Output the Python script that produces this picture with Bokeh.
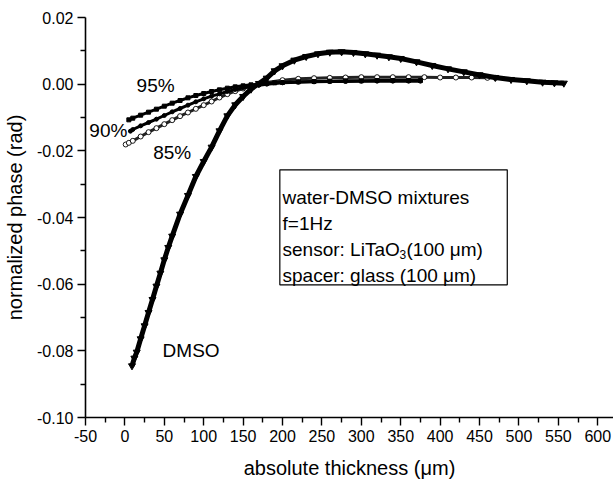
from bokeh.plotting import figure
from bokeh.models import Range1d, FixedTicker, ColumnDataSource
from bokeh.core.properties import value
from bokeh.embed import file_html
from bokeh.resources import INLINE

# ---- data ----
dmso_x = [9, 12, 15, 20, 25, 30, 35, 40, 45, 50, 55, 60, 70, 80, 90, 100, 110, 120, 130, 140,
          150, 160, 170, 180, 190, 200, 215, 230, 245, 260, 275, 290, 305, 320, 335, 350, 370,
          390, 410, 430, 450, 470, 490, 510, 530, 545, 557]
dmso_y = [-0.0845, -0.0822, -0.0804, -0.0764, -0.0725, -0.0685, -0.0646, -0.0606, -0.0567,
          -0.0527, -0.0490, -0.0456, -0.0390, -0.0334, -0.0277, -0.0232, -0.0189, -0.0140,
          -0.0095, -0.0062, -0.0037, -0.0015, 0.0002, 0.0018, 0.0040, 0.0055, 0.0072, 0.0083,
          0.0091, 0.0096, 0.0097, 0.0095, 0.0091, 0.0087, 0.0082, 0.0077, 0.0067, 0.0056,
          0.0046, 0.0037, 0.0028, 0.0020, 0.0014, 0.0010, 0.0006, 0.0004, 0.0003]

p95_x = [5, 10, 20, 30, 40, 50, 60, 70, 80, 90, 100, 110, 120, 130, 140, 150, 160, 170, 180,
         190, 200, 220, 240, 260, 280, 300, 320, 340, 360, 375]
p95_y = [-0.0107, -0.0102, -0.0093, -0.0084, -0.0075, -0.0066, -0.0057, -0.0049, -0.0041,
         -0.0034, -0.0028, -0.0022, -0.0017, -0.0012, -0.0008, -0.0005, -0.0002, 0.0000,
         0.0002, 0.0004, 0.0005, 0.0007, 0.0008, 0.0009, 0.0010, 0.0010, 0.0011, 0.0011,
         0.0011, 0.0011]

p90_x = [7, 10, 20, 30, 40, 50, 60, 70, 80, 90, 100, 110, 120, 130, 140, 150, 160, 170, 180,
         200, 220, 240, 260, 280, 300, 320, 340, 360, 375]
p90_y = [-0.0141, -0.0136, -0.0125, -0.0115, -0.0105, -0.0094, -0.0083, -0.0073, -0.0063,
         -0.0053, -0.0044, -0.0036, -0.0029, -0.0022, -0.0016, -0.0011, -0.0007, -0.0003,
         0.0000, 0.0004, 0.0006, 0.0007, 0.0008, 0.0008, 0.0009, 0.0009, 0.0009, 0.0009, 0.0009]

p85_x = [1, 5, 10, 20, 30, 40, 50, 60, 70, 80, 90, 100, 110, 120, 130, 140, 150, 160, 170,
         180, 200, 220, 240, 260, 280, 300, 320, 340, 360, 380, 400, 420, 440, 460, 470]
p85_y = [-0.0181, -0.0176, -0.0170, -0.0157, -0.0144, -0.0132, -0.0120, -0.0108, -0.0096,
         -0.0085, -0.0074, -0.0063, -0.0052, -0.0040, -0.0030, -0.0021, -0.0013, -0.0006,
         0.0000, 0.0005, 0.0012, 0.0016, 0.0018, 0.0019, 0.0020, 0.0021, 0.0021, 0.0021,
         0.0021, 0.0021, 0.0020, 0.0020, 0.0020, 0.0019, 0.0019]

x_ticks = [-50, 0, 50, 100, 150, 200, 250, 300, 350, 400, 450, 500, 550, 600]
x_tick_labels = ["-50", "0", "50", "100", "150", "200", "250", "300", "350", "400", "450",
                 "500", "550", "600"]
x_minor = [-25, 25, 75, 125, 175, 225, 275, 325, 375, 425, 475, 525, 575]
y_ticks = [-0.10, -0.08, -0.06, -0.04, -0.02, 0.00, 0.02]
y_tick_labels = ["-0.10", "-0.08", "-0.06", "-0.04", "-0.02", "0.00", "0.02"]
y_minor = [-0.09, -0.07, -0.05, -0.03, -0.01, 0.01]

curve_labels = ["95%", "90%", "85%", "DMSO"]
curve_label_x = [39, -21, 60, 84]
curve_label_y = [-0.0004, -0.0139, -0.0205, -0.0799]

box_lines = ["water-DMSO mixtures", "f=1Hz", "sensor: LiTaO", "spacer: glass (100 \u03bcm)"]

FONT = "Liberation Sans"

p = figure(width=613, height=481, output_backend="svg", toolbar_location=None,
           x_range=Range1d(-50, 620), y_range=Range1d(-0.10, 0.02),
           min_border_left=85, min_border_right=0, min_border_top=17, min_border_bottom=64)
p.outline_line_color = None
p.grid.visible = False
p.background_fill_color = "white"

for ax in (p.xaxis[0], p.yaxis[0]):
    ax.axis_line_width = 1.6
    ax.major_tick_line_width = 1.4
    ax.minor_tick_line_width = 1.4
    ax.major_tick_out = 8
    ax.major_tick_in = 0
    ax.minor_tick_out = 5
    ax.minor_tick_in = 0
    ax.major_label_text_font = FONT
    ax.major_label_text_font_size = "16px"
    ax.major_label_text_color = "black"
    ax.axis_label_text_font = FONT
    ax.axis_label_text_font_size = "20px"
    ax.axis_label_text_font_style = "normal"
    ax.axis_label_text_color = "black"

p.xaxis.ticker = FixedTicker(ticks=x_ticks, minor_ticks=x_minor)
p.xaxis.major_label_overrides = dict(zip(x_ticks, x_tick_labels))
p.xaxis.axis_label = "absolute thickness (\u03bcm)"
p.xaxis.major_label_standoff = 4
p.xaxis.axis_label_standoff = 12

p.yaxis.ticker = FixedTicker(ticks=y_ticks, minor_ticks=y_minor)
p.yaxis.major_label_overrides = dict(zip(y_ticks, y_tick_labels))
p.yaxis.axis_label = "normalized phase (rad)"
p.yaxis.major_label_standoff = 4
p.yaxis.axis_label_standoff = 8

# ---- curves ----
s85 = ColumnDataSource(dict(x=p85_x, y=p85_y))
p.line("x", "y", source=s85, line_color="#222222", line_width=3)
p.scatter("x", "y", source=s85, marker="circle", size=5, fill_color="white",
          line_color="black", line_width=0.9)

s90 = ColumnDataSource(dict(x=p90_x, y=p90_y))
p.line("x", "y", source=s90, line_color="black", line_width=3)
p.scatter("x", "y", source=s90, marker="circle", size=4, fill_color="black", line_color="black")

s95 = ColumnDataSource(dict(x=p95_x, y=p95_y))
p.line("x", "y", source=s95, line_color="black", line_width=3)
p.scatter("x", "y", source=s95, marker="square", size=4, fill_color="black", line_color="black")

sd = ColumnDataSource(dict(x=dmso_x, y=dmso_y))
p.line("x", "y", source=sd, line_color="black", line_width=5)
p.scatter("x", "y", source=sd, marker="inverted_triangle", size=7, fill_color="black",
          line_color="black")

# ---- curve labels ----
p.text(x=curve_label_x, y=curve_label_y, text=curve_labels, text_font=value(FONT),
       text_font_size="19px", text_align="center", text_baseline="middle", text_color="black")

# ---- info box ----
box_left, box_right, box_top, box_bottom = 196.6, 485.2, -0.0257, -0.0602
p.quad(left=[box_left], right=[box_right], top=[box_top], bottom=[box_bottom],
       fill_color="white", line_color="black", line_width=1.2)
line_y = [-0.0339, -0.0417, -0.0495, -0.0573]
p.text(x=[200] * 4, y=line_y, text=box_lines, text_font=value(FONT), text_font_size="19px",
       text_align="left", text_baseline="alphabetic", text_color="black")
p.text(x=[200], y=[line_y[2]], text=["3"], text_font=value(FONT), text_font_size="12px",
       x_offset=117, y_offset=5, text_align="left", text_baseline="alphabetic",
       text_color="black")
p.text(x=[200], y=[line_y[2]], text=["(100 \u03bcm)"], text_font=value(FONT),
       text_font_size="19px", x_offset=124, text_align="left", text_baseline="alphabetic",
       text_color="black")

open("out.html", "w").write(file_html(p, INLINE))
